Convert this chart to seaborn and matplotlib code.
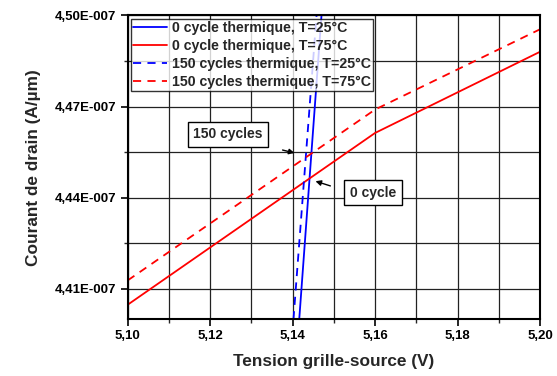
import matplotlib
matplotlib.use("Agg")
import matplotlib.pyplot as plt
import matplotlib.ticker as mticker
import seaborn as sns
import pandas as pd

# Drain current vs gate-source voltage, before / after 150 thermal cycles
vgs_0c_25 = [5.1416, 5.1470]
id_0c_25 = [4.400e-7, 4.500e-7]

vgs_0c_75 = [5.10, 5.16, 5.20]
id_0c_75 = [4.4048e-7, 4.4613e-7, 4.4880e-7]

vgs_150c_25 = [5.1402, 5.1458]
id_150c_25 = [4.400e-7, 4.500e-7]

vgs_150c_75 = [5.10, 5.16, 5.20]
id_150c_75 = [4.4128e-7, 4.4690e-7, 4.4954e-7]

labels = [
    "0 cycle thermique, T=25°C",
    "0 cycle thermique, T=75°C",
    "150 cycles thermique, T=25°C",
    "150 cycles thermique, T=75°C",
]
colors = ["#0000ff", "#ff0000", "#0000ff", "#ff0000"]
dashed = [False, False, True, True]

x_major = [5.10, 5.12, 5.14, 5.16, 5.18, 5.20]
x_minor = [5.11, 5.13, 5.15, 5.17, 5.19]
y_major = [4.41e-7, 4.44e-7, 4.47e-7, 4.50e-7]
y_minor = [4.425e-7, 4.455e-7, 4.485e-7]

sns.set_theme(style="white")
plt.rcParams["font.family"] = ["Liberation Sans", "DejaVu Sans"]
plt.rcParams["font.weight"] = "bold"

fig = plt.figure(figsize=(5.57, 3.76), dpi=100)
ax = fig.add_axes([0.2293, 0.1508, 0.9695 - 0.2293, 0.9593 - 0.1508])

series = [
    (vgs_0c_25, id_0c_25),
    (vgs_0c_75, id_0c_75),
    (vgs_150c_25, id_150c_25),
    (vgs_150c_75, id_150c_75),
]
for (xs, ys), lab, col, dsh in zip(series, labels, colors, dashed):
    df = pd.DataFrame({"x": xs, "y": ys})
    sns.lineplot(data=df, x="x", y="y", ax=ax, color=col, lw=1.3,
                 label=lab, sort=False, estimator=None)
    if dsh:
        ax.lines[-1].set_dashes([4.5, 3.5])

ax.set_xlim(5.10, 5.20)
ax.set_ylim(4.40e-7, 4.50e-7)
ax.xaxis.set_major_locator(mticker.FixedLocator(x_major))
ax.xaxis.set_minor_locator(mticker.FixedLocator(x_minor))
ax.yaxis.set_major_locator(mticker.FixedLocator(y_major))
ax.yaxis.set_minor_locator(mticker.FixedLocator(y_minor))
ax.xaxis.set_major_formatter(mticker.FuncFormatter(lambda v, p: f"{v:.2f}".replace(".", ",")))
ax.yaxis.set_major_formatter(mticker.FuncFormatter(
    lambda v, p: f"{v * 1e7:.2f}E-007".replace(".", ",")))

ax.grid(True, which="both", color="#222222", lw=0.9)
ax.set_axisbelow(True)
for s in ax.spines.values():
    s.set_color("black")
    s.set_linewidth(1.5)
ax.tick_params(axis="both", which="major", direction="out", length=5, width=1.2,
               labelsize=9.5, colors="black", pad=3, bottom=True, left=True)
ax.tick_params(axis="both", which="minor", direction="out", length=3, width=1.0,
               bottom=True, left=True)
for t in ax.get_xticklabels() + ax.get_yticklabels():
    t.set_fontweight("bold")

ax.set_xlabel("Tension grille-source (V)", fontsize=12.4, fontweight="bold", labelpad=8)
ax.set_ylabel("Courant de drain (A/µm)", fontsize=12.4, fontweight="bold", labelpad=10)

leg = ax.legend(loc="upper left", bbox_to_anchor=(0.0, 1.0), fontsize=10.2,
                frameon=True, fancybox=False, edgecolor="black",
                handlelength=2.4, handletextpad=0.3, borderpad=0.15,
                labelspacing=0.28, borderaxespad=0.25)
leg.get_frame().set_linewidth(1.0)
for t in leg.get_texts():
    t.set_fontweight("bold")

box = dict(boxstyle="square,pad=0.4", fc="white", ec="black", lw=1.0)
ax.text(5.1243, 4.4608e-7, "150 cycles", ha="center", va="center",
        fontsize=10, fontweight="bold", bbox=box)
ax.annotate("", xy=(5.1411, 4.4545e-7), xytext=(5.1369, 4.4559e-7),
            arrowprops=dict(arrowstyle="-|>", color="black", lw=1.0,
                            mutation_scale=8))
ax.text(5.1595, 4.4416e-7, "0 cycle", ha="center", va="center",
        fontsize=10, fontweight="bold", bbox=box)
ax.annotate("", xy=(5.1449, 4.4457e-7), xytext=(5.1498, 4.4436e-7),
            arrowprops=dict(arrowstyle="-|>", color="black", lw=1.0,
                            mutation_scale=8))

fig.savefig("out.png", dpi=100)
